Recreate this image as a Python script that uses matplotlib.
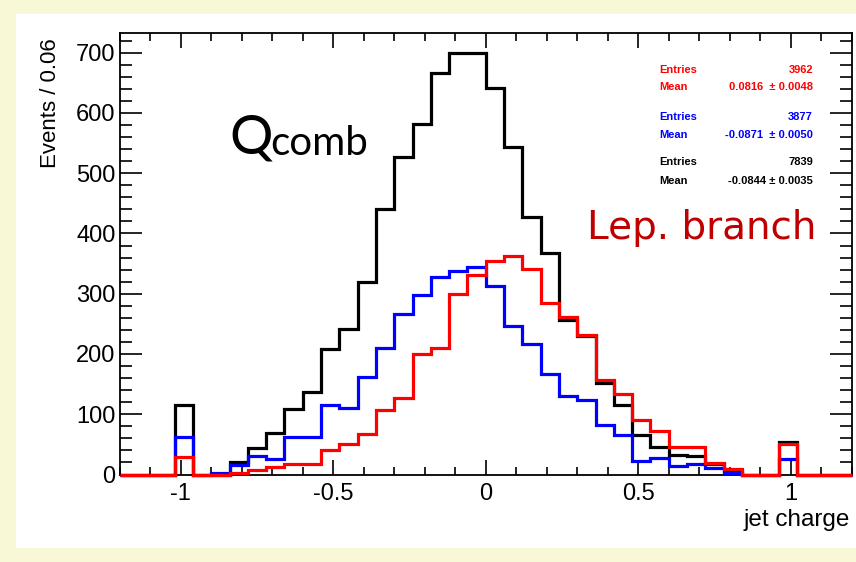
import numpy as np
import matplotlib
matplotlib.use("Agg")
import matplotlib.pyplot as plt
from matplotlib.ticker import MultipleLocator, FuncFormatter
from matplotlib.patches import Rectangle

# ---- data (40 bins of width 0.06 from -1.2 to 1.2) ----
x_min, x_max, bin_width = -1.2, 1.2, 0.06
black_counts = [0, 0, 0, 115, 0, 0, 21, 44, 69, 108, 137, 209, 242, 320, 441, 527,
                581, 667, 700, 700, 642, 544, 428, 368, 257, 230, 152, 115, 65, 45,
                33, 30, 17, 6, 0, 0, 54, 0, 0, 0]
blue_counts = [0, 0, 0, 63, 0, 3, 15, 30, 26, 62, 62, 116, 111, 162, 210, 267,
               298, 327, 338, 345, 313, 247, 217, 166, 130, 124, 82, 65, 22, 27,
               14, 18, 10, 2, 0, 0, 26, 0, 0, 0]
red_counts = [0, 0, 0, 29, 0, 0, 3, 7, 12, 18, 18, 40, 50, 67, 107, 127,
              200, 210, 300, 331, 355, 362, 341, 285, 261, 232, 156, 133, 91, 73,
              46, 46, 19, 9, 0, 0, 50, 0, 0, 0]
x_ticks = [-1, -0.5, 0, 0.5, 1]
stats_red = ("Entries", "3962", "Mean", "0.0816  \u00b1 0.0048")
stats_blue = ("Entries", "3877", "Mean", "-0.0871  \u00b1 0.0050")
stats_black = ("Entries", "7839", "Mean", "-0.0844 \u00b1 0.0035")

plt.rcParams["axes.unicode_minus"] = False
W, H = 856, 562
fig = plt.figure(figsize=(W / 100, H / 100), dpi=100, facecolor="#f9f8d6")

def fx(px):
    return px / W

def fy(py):
    return 1 - py / H

fig.patches.append(Rectangle((fx(16), fy(548)), fx(856) - fx(16), fy(14) - fy(548),
                             transform=fig.transFigure, facecolor="white",
                             edgecolor="none", zorder=-5))

ax = fig.add_axes([fx(119.7), fy(474.5), fx(851.7) - fx(119.7), fy(33) - fy(474.5)])
ax.set_facecolor("white")

edges = np.round(x_min + bin_width * np.arange(len(black_counts) + 1), 4)
lw = 2.3
ax.stairs(black_counts, edges, color="black", lw=lw, baseline=None, clip_on=False, zorder=3)
ax.stairs(blue_counts, edges, color="#0000ff", lw=lw, baseline=None, clip_on=False, zorder=4)
ax.stairs(red_counts, edges, color="#ff0000", lw=lw, baseline=None, clip_on=False, zorder=5)

ax.set_xlim(x_min, x_max)
ax.set_ylim(0, 732.7)
ax.set_xticks(x_ticks)
ax.xaxis.set_minor_locator(MultipleLocator(0.1))
ax.yaxis.set_major_locator(MultipleLocator(100))
ax.yaxis.set_minor_locator(MultipleLocator(20))
ax.xaxis.set_major_formatter(FuncFormatter(lambda v, p: "%g" % v))
ax.yaxis.set_major_formatter(FuncFormatter(lambda v, p: "%g" % v))

for s in ax.spines.values():
    s.set_linewidth(1.3)

tick_font = "Liberation Sans"
ax.tick_params(axis="x", which="major", direction="in", length=10.5, width=1.2,
               top=True, pad=6, labelsize=17)
ax.tick_params(axis="x", which="minor", direction="in", length=6, width=1.2, top=True)
ax.tick_params(axis="y", which="major", direction="in", length=16, width=1.2,
               right=True, pad=3, labelsize=17)
ax.tick_params(axis="y", which="minor", direction="in", length=8.5, width=1.2, right=True)
for lab in ax.get_xticklabels() + ax.get_yticklabels():
    lab.set_fontfamily(tick_font)

fig.text(fx(50), fy(38), "Events / 0.06", rotation=90, ha="center", va="top",
         fontsize=16, family=tick_font)
fig.text(fx(850), fy(520), "jet charge", ha="right", va="center",
         fontsize=17.5, family=tick_font)

# Q_comb label
fig.text(fx(229), fy(153), "Q", ha="left", va="baseline", fontsize=39, family="Lato")
fig.text(fx(270), fy(155), "comb", ha="left", va="baseline", fontsize=29, family="Lato")

# Lep. branch
fig.text(fx(587), fy(239), "Lep. branch", ha="left", va="baseline", fontsize=28,
         color="#c00000", family="DejaVu Sans")

# stats boxes
def stats(block, color, y1, y2):
    fig.text(fx(659), fy(y1), block[0], ha="left", va="center", fontsize=8,
             color=color, weight="bold", family=tick_font)
    fig.text(fx(813), fy(y1), block[1], ha="right", va="center", fontsize=8,
             color=color, weight="bold", family=tick_font)
    fig.text(fx(659), fy(y2), block[2], ha="left", va="center", fontsize=8,
             color=color, weight="bold", family=tick_font)
    fig.text(fx(813), fy(y2), block[3], ha="right", va="center", fontsize=8,
             color=color, weight="bold", family=tick_font)

stats(stats_red, "#ff0000", 70, 87)
stats(stats_blue, "#0000ff", 117, 135)
stats(stats_black, "black", 162, 181)

fig.savefig("out.png", dpi=100, facecolor=fig.get_facecolor())
